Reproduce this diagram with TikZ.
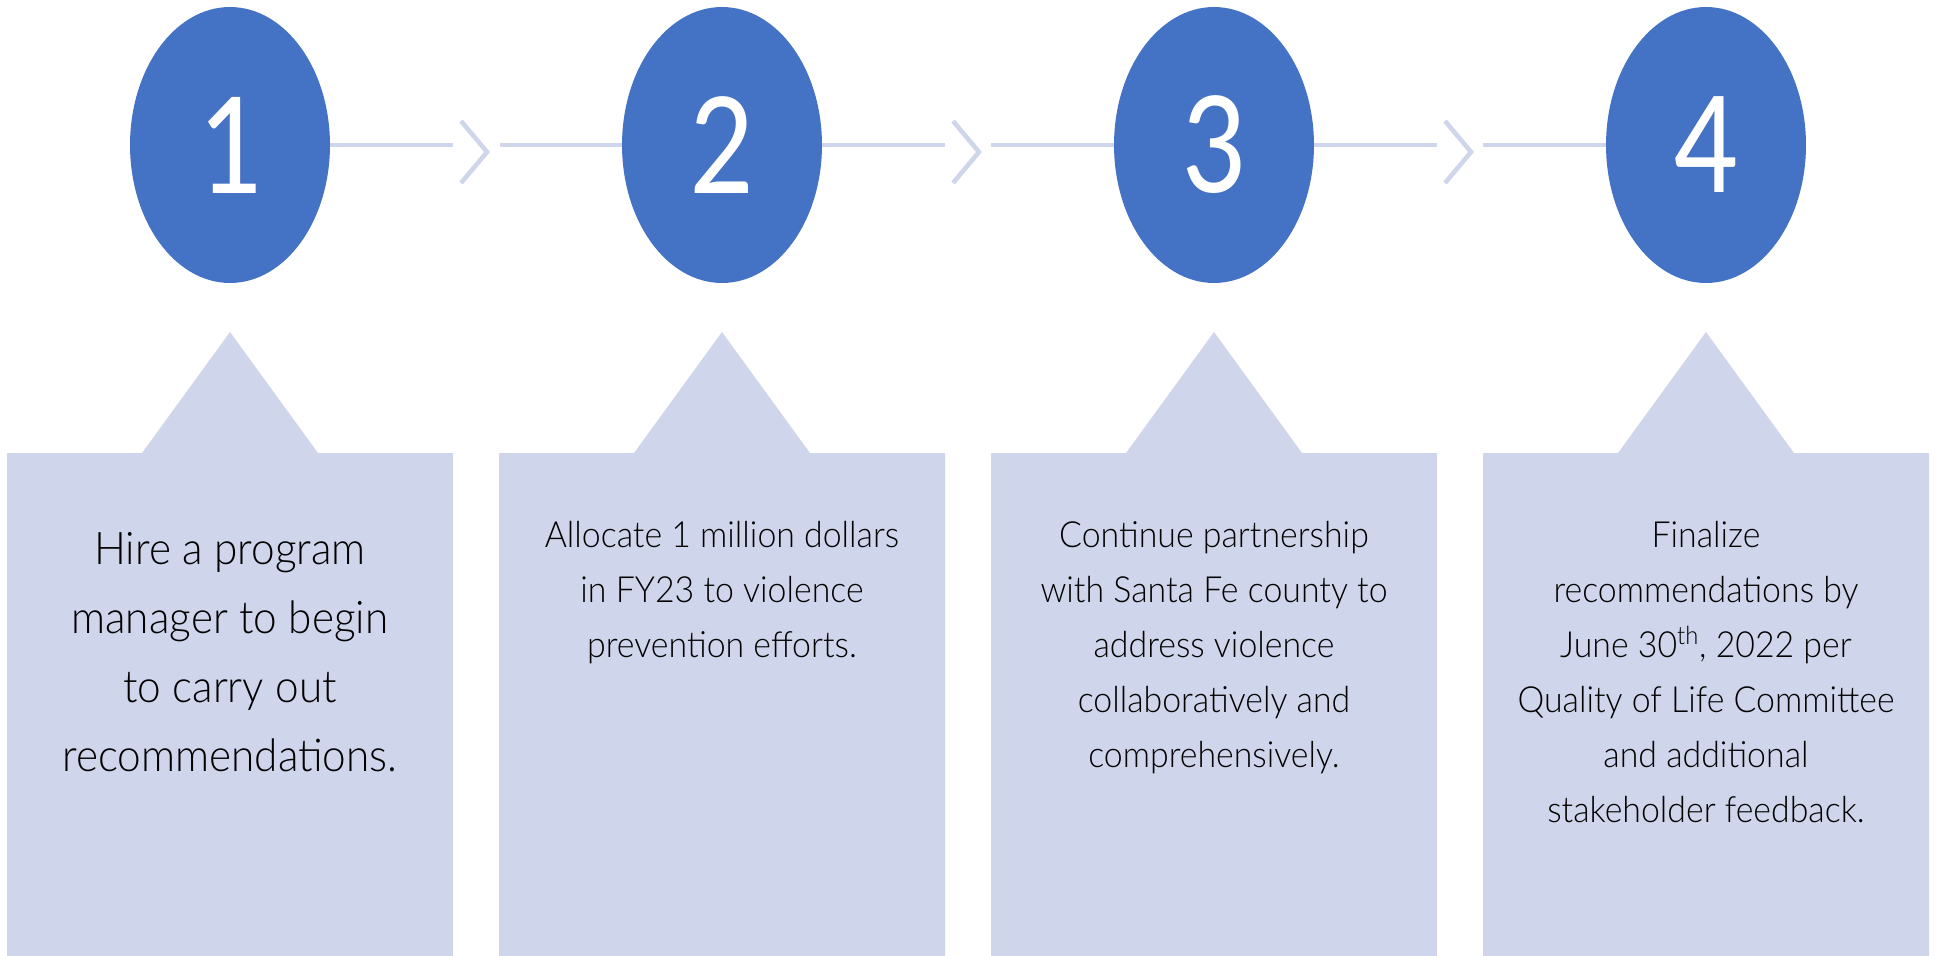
\documentclass[tikz,border=0pt]{standalone}
\usepackage{fontspec}
\setmainfont{Lato Light}[FakeStretch=0.94]
\newfontfamily\digitfont[FakeStretch=0.85]{Carlito}
\usetikzlibrary{shapes.geometric}
\definecolor{stepblue}{HTML}{4472C4}
\definecolor{paleblue}{HTML}{CFD5EA}
\begin{document}
\begin{tikzpicture}[x=0.02cm, y=-0.02cm, line join=miter,
	numdisc/.style={ellipse, fill=stepblue, minimum width=4cm, minimum height=5.52cm, inner sep=0pt, text=white, font=\digitfont\fontsize{85}{85}\selectfont},
	stepnote/.style={anchor=north, inner sep=0pt, align=center, font=\fontsize{20.5}{31.3}\selectfont},
	bignote/.style={stepnote, font=\fontsize{25.6}{39.3}\selectfont},
	link/.style={draw=paleblue, line width=2.6pt}]
	\useasboundingbox (0,0) rectangle (1935,956);
	% callout boxes with their pointer
	\foreach \cx in {230,722,1214,1706}
	\fill[paleblue] (\cx-223,453)--(\cx-88,453)--(\cx,332)--(\cx+88,453)--(\cx+223,453)--(\cx+223,956)--(\cx-223,956)--cycle;
	% number discs
	\foreach \k/\cx in {1/230,2/722,3/1214,4/1706}
	\node[numdisc] (n\k) at (\cx,145) {\k};
	% line ends at the box edges
	\foreach \k/\xl/\xr in {1/453/500,2/945/991,3/1437/1483}{
		\coordinate (l\k) at (\xl,145);
		\coordinate (r\k) at (\xr,145);
	}
	\foreach \i/\j in {1/2,2/3,3/4}{
		\draw[link] (n\i.east)--(l\i);
		\draw[link] ([shift={(8,-24)}]l\i)--([shift={(34,7)}]l\i)--([shift={(8,38)}]l\i);
		\draw[link] (r\i)--(n\j.west);
	}
	% texts
	\node[bignote] (t1) at (230,532) {Hire a program\\manager to begin\\to carry out\\recommendations.};
	\node[stepnote] (t2) at (722,521) {Allocate 1 million dollars\\in FY23 to violence\\prevention efforts.};
	\node[stepnote] (t3) at (1214,521) {Continue partnership\\with Santa Fe county to\\address violence\\collaboratively and\\comprehensively.};
	\node[stepnote] (t4) at (1706,521) {Finalize\\recommendations by\\June 30\textsuperscript{th}, 2022 per\\Quality of Life Committee\\and additional\\stakeholder feedback.};
\end{tikzpicture}
\end{document}
